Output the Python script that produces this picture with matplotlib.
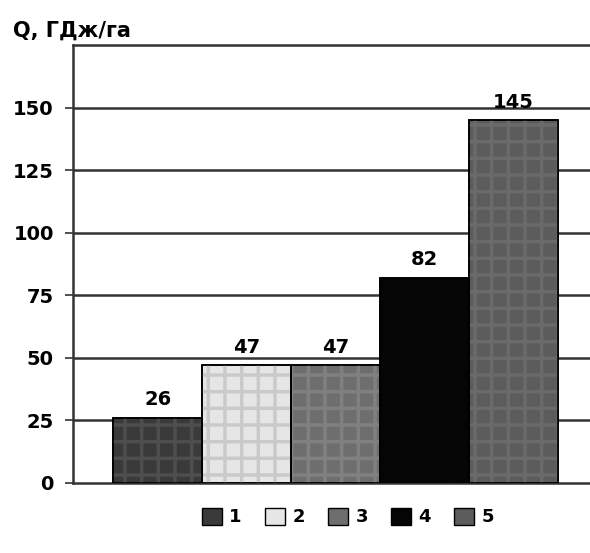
import matplotlib.pyplot as plt
from matplotlib.patches import Patch

labels = ["1", "2", "3", "4", "5"]
values = [26, 47, 47, 82, 145]
face_colors = ["#3a3a3a", "#e6e6e6", "#6e6e6e", "#050505", "#5c5c5c"]
hatch_colors = ["#4e4e4e", "#cacaca", "#808080", "#050505", "#6a6a6a"]
y_ticks = [0, 25, 50, 75, 100, 125, 150]

plt.rcParams['font.family'] = ['DejaVu Sans']
plt.rcParams['font.weight'] = 'bold'
plt.rcParams['hatch.linewidth'] = 2.5

fig = plt.figure(figsize=(5.9, 5.53), dpi=100)
ax = fig.add_axes([0.124, 0.127, 0.9, 0.791])

x = list(range(len(values)))

# Gridlines behind bars
for t in y_ticks[1:]:
    ax.axhline(t, color="#333333", linewidth=1.8, zorder=0)

# Base fill
ax.bar(x, values, width=1.0, color=face_colors, edgecolor="black",
       linewidth=1.2, zorder=2)
# Plaid texture on top
for xi, v, hc in zip(x, values, hatch_colors):
    ax.bar(xi, v, width=1.0, color="none", edgecolor=hc, hatch="+",
           linewidth=0, zorder=3)
ax.bar(x, values, width=1.0, color="none", edgecolor="black",
       linewidth=1.2, zorder=4)

# Value labels
for xi, v in zip(x, values):
    ax.text(xi, v + 3.5, str(v), ha="center", va="bottom", fontsize=14,
            fontweight="bold")

ax.set_xlim(-0.95, 5.02)
ax.set_ylim(0, 175)
ax.set_yticks(y_ticks)
ax.set_yticklabels([str(t) for t in y_ticks], fontsize=14, fontweight="bold")
ax.set_xticks([])
ax.tick_params(axis="y", length=6, width=1.2, color="#333333", pad=8)

for side in ["left", "bottom", "top"]:
    ax.spines[side].set_linewidth(1.8)
    ax.spines[side].set_color("#333333")
ax.spines["right"].set_visible(False)

fig.text(0.022, 0.945, "Q, ГДж/га", fontsize=15, fontweight="bold",
         ha="left", va="center")

handles = [Patch(facecolor=c, edgecolor="black", linewidth=1.0)
           for c in face_colors]
fig.legend(handles, labels, loc="center", bbox_to_anchor=(0.59, 0.065),
           ncol=5, frameon=False, fontsize=13, handlelength=1.1,
           handleheight=1.1, handletextpad=0.4, columnspacing=1.3)

fig.savefig("out.png", dpi=100)
